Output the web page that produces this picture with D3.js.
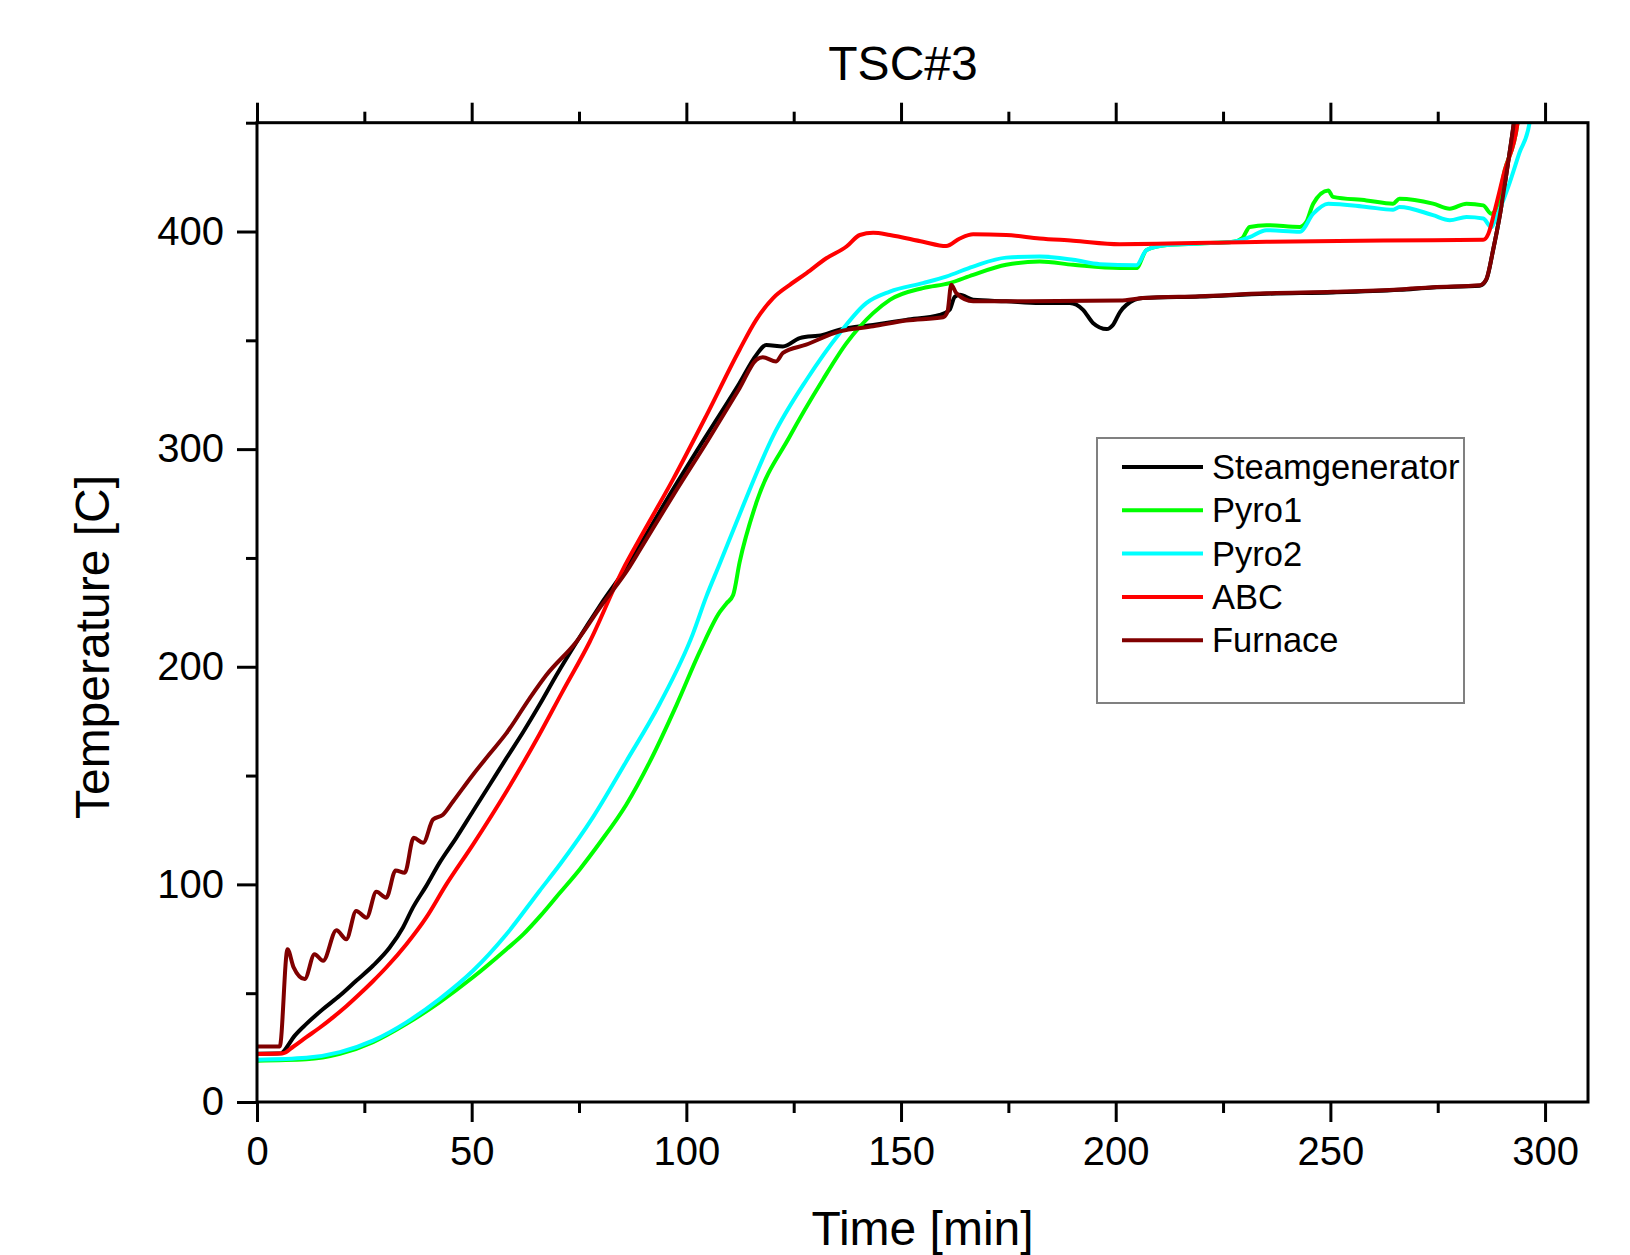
<!DOCTYPE html>
<html>
<head>
<meta charset="utf-8">
<title>TSC#3</title>
<script src="https://cdn.jsdelivr.net/npm/d3@7"></script>
<style>
  body { margin: 0; background: #fff; }
  text { font-family: "Liberation Sans", Arial, sans-serif; fill: #000; }
</style>
</head>
<body>
<svg></svg>
<script>
'use strict';

// temperature curves, [time (min), temperature (C)]
let steamgenerator = [
  [0, 22.2], [5.8, 22.4], [6.1, 23], [8.8, 30.5], [11.5, 35.9], [15.4, 42.7],
  [19.3, 48.9], [23.1, 55.7], [27, 62.6], [30.9, 71], [34, 80.2], [36.3, 89.3],
  [39.4, 99.2], [42.5, 109.9], [46.4, 121.4], [50.3, 133.6], [54.2, 145.8],
  [58.1, 158], [62, 170], [65.8, 182.5], [70, 197], [74, 210], [80, 228.5],
  [86.8, 248], [89.1, 255.6], [96.9, 281.5], [104.6, 306], [112.4, 330.4],
  [116.3, 343.3], [118.6, 347.9], [122.5, 347.2], [126.4, 351], [131.8, 352.5],
  [135.7, 354.9], [143.5, 357.1], [151.2, 359.4], [159, 361.7], [161.3, 364],
  [162.5, 370], [163.7, 370.9], [166.8, 368.6], [174.5, 367.9], [182.3, 367.1],
  [189.3, 367.1], [192.4, 364], [194.7, 358], [197.9, 355.2], [199.4, 357.2],
  [201, 363], [202.5, 366.3], [206.3, 369.4], [219.6, 370.1], [235.1, 371.4],
  [250.6, 372], [266.1, 373.2], [273.9, 374.3], [284.8, 375.1], [286.3, 377.8],
  [287.9, 391.5], [289.4, 406.7], [291, 426.6], [292.6, 448], [293.4, 460]
];

let pyro1 = [
  [0, 19], [11.5, 19.6], [19.3, 22.1], [27, 27.5], [34.8, 35.9], [42.5, 45.8],
  [50.3, 57.3], [58.1, 70.2], [62, 77], [66, 85.5], [70.5, 96], [75.2, 107],
  [79.8, 119], [86, 136.6], [91.5, 156.4], [97.7, 182.4], [103.1, 206.8],
  [107.8, 225.2], [109.3, 229], [110.9, 233], [112.4, 248], [116.3, 275.4],
  [124.1, 305.9], [131.8, 331.9], [137.3, 348.7], [143.5, 362.5], [147.4, 368.6],
  [155.1, 374], [161.3, 376.3], [166.8, 380.1], [174.5, 384.7], [182.3, 386.2],
  [190.1, 384.7], [200.9, 383.2], [204.8, 383.2], [207.2, 391.5], [211.9, 393.8],
  [219.6, 394.5], [227.4, 395.3], [229.5, 397], [231.2, 402.1], [235.1, 402.9],
  [242.9, 402.1], [244.4, 404.4], [246, 412.8], [249.5, 418.9], [250.6, 415.9],
  [258.4, 414.3], [264.6, 412.8], [266.1, 415.1], [273.9, 412.8], [277.8, 410.5],
  [281.7, 412.8], [285.6, 412], [287.5, 408.2], [288.5, 410], [290.6, 428],
  [293.6, 450], [294.2, 460]
];

let pyro2 = [
  [0, 19.4], [11.5, 20.3], [19.3, 22.9], [27, 28.2], [34.8, 36.6], [42.5, 47.3],
  [50.3, 60.3], [58.1, 77.1], [65.8, 97], [70.5, 109], [78.3, 131], [86, 156.5],
  [93.8, 183], [101.5, 215], [104.6, 232], [107.7, 247], [112.4, 270],
  [120.2, 306], [128, 331.9], [135.7, 353.3], [141.9, 367.1], [147.4, 372.4],
  [155.1, 376.3], [160.5, 379.3], [166.8, 383.9], [174.5, 388], [182.3, 388.5],
  [190.1, 387], [196.3, 385], [204.8, 384.5], [207.2, 391.5], [211.9, 393.8],
  [219.6, 394.5], [227.4, 395.3], [231.2, 397.4], [235.1, 400.6], [242.9, 399.9],
  [246, 408.2], [249.5, 412.8], [258.4, 411.3], [264.6, 410], [266.1, 411.3],
  [273.9, 407.5], [277.8, 405.2], [281.7, 406.7], [285.6, 406], [287.5, 402],
  [288.3, 405], [291.4, 420.4], [294, 436], [296.4, 450], [297, 458]
];

let abc = [
  [0, 22.1], [6.1, 22.4], [8.5, 25.5], [11.5, 29.8], [14.5, 34], [17.7, 38.9],
  [20.8, 44], [23.9, 49.6], [27, 55.5], [30.1, 61.8], [34.8, 72.5], [39.4, 84.7],
  [44.1, 100], [50.3, 118.3], [58.1, 142.7], [65.8, 169], [71, 188], [77.5, 211.5],
  [85.3, 245], [89.1, 258.7], [96.9, 286.1], [104.6, 315.2], [112.4, 345.7],
  [116.3, 359.5], [120.2, 369.4], [124.1, 375.5], [128, 380.9], [132.6, 387.7],
  [137.3, 393.1], [140.4, 398.4], [143.5, 399.4], [147.4, 398.4], [155.1, 395.3],
  [160.5, 393.3], [163.7, 396.8], [166.8, 398.7], [174.5, 398.4], [182.3, 396.8],
  [190.1, 395.8], [200.9, 394.2], [235.1, 395.3], [273.9, 396], [285.6, 396.2],
  [286.8, 399], [288.3, 409.8], [290.6, 428.1], [293.6, 450], [294.2, 460]
];

let furnace = [
  [0, 25.5], [5.3, 25.5], [7.1, 70.2], [8.5, 62], [11.1, 56.5], [13.4, 67.9],
  [15.4, 64.9], [18.5, 78.9], [20.8, 74.8], [23.1, 87.8], [25.5, 84.7],
  [27.8, 96.6], [30.1, 93.9], [32.3, 106.4], [34.4, 105.3], [36.5, 121.4],
  [38.7, 119.1], [41, 129.8], [43.3, 132], [45.7, 138.2], [50.3, 150.4],
  [54.2, 160], [58.1, 169.5], [63.5, 185.5], [67.4, 196.2], [74.4, 211.5],
  [80, 227.5], [86.8, 246], [89.1, 253.4], [97, 279], [105, 304], [112.4, 328],
  [116.3, 341], [117.8, 342.2], [120.9, 340.3], [122.5, 344.2], [127.9, 348],
  [135.7, 354.1], [143.5, 356.4], [151.2, 359.1], [159.8, 360.6], [160.8, 363],
  [161.7, 375.5], [162.9, 371.6], [166.8, 367.9], [174.5, 367.9], [201, 368.3],
  [206.3, 369.4], [219.6, 370.3], [235.1, 371.6], [250.6, 372.3], [266.1, 373.4],
  [273.9, 374.4], [284.8, 375.3], [286.3, 378], [287.9, 391.5], [289.4, 406.7],
  [291, 426.6], [292.6, 448], [293.4, 460]
];

let seriesNames = ['Steamgenerator', 'Pyro1', 'Pyro2', 'ABC', 'Furnace'];
let seriesColors = ['#000000', '#00ff00', '#00ffff', '#ff0000', '#800000'];
let seriesData = [steamgenerator, pyro1, pyro2, abc, furnace];

let xMajorTicks = [0, 50, 100, 150, 200, 250, 300];
let xMinorTicks = [25, 75, 125, 175, 225, 275];
let yMajorTicks = [0, 100, 200, 300, 400];
let yMinorTicks = [50, 150, 250, 350, 450];

let w = 1630;
let h = 1255;
// plot frame in pixels
let plotLeft = 257, plotRight = 1588, plotTop = 122.7, plotBottom = 1102;

let svg = d3.select('svg')
  .attr('width', w)
  .attr('height', h);

svg.append('rect')
  .attr('width', w)
  .attr('height', h)
  .attr('fill', '#fff');

let x = d3.scaleLinear().domain([0, 310]).range([plotLeft, plotRight]);
let y = d3.scaleLinear().domain([0, 450]).range([plotBottom, plotTop]);

// small helper so every axis gets the same thick ticks and fonts
function styleAxis(g) {
  g.select('.domain').remove();
  g.selectAll('line').attr('stroke-width', 3);
  g.attr('font-size', 40).attr('font-family', '"Liberation Sans", Arial, sans-serif');
}

// bottom axis: major ticks with labels, then minor ticks
svg.append('g')
  .attr('transform', 'translate(0,' + plotBottom + ')')
  .call(d3.axisBottom(x).tickValues(xMajorTicks).tickSize(20).tickSizeOuter(0).tickPadding(15))
  .call(styleAxis);
svg.append('g')
  .attr('transform', 'translate(0,' + plotBottom + ')')
  .call(d3.axisBottom(x).tickValues(xMinorTicks).tickSize(11).tickSizeOuter(0).tickFormat(''))
  .call(styleAxis);

// top axis: ticks only
svg.append('g')
  .attr('transform', 'translate(0,' + plotTop + ')')
  .call(d3.axisTop(x).tickValues(xMajorTicks).tickSize(20).tickSizeOuter(0).tickFormat(''))
  .call(styleAxis);
svg.append('g')
  .attr('transform', 'translate(0,' + plotTop + ')')
  .call(d3.axisTop(x).tickValues(xMinorTicks).tickSize(11).tickSizeOuter(0).tickFormat(''))
  .call(styleAxis);

// left axis
svg.append('g')
  .attr('transform', 'translate(' + plotLeft + ',0)')
  .call(d3.axisLeft(y).tickValues(yMajorTicks).tickSize(20).tickSizeOuter(0).tickPadding(13))
  .call(styleAxis);
svg.append('g')
  .attr('transform', 'translate(' + plotLeft + ',0)')
  .call(d3.axisLeft(y).tickValues(yMinorTicks).tickSize(11).tickSizeOuter(0).tickFormat(''))
  .call(styleAxis);

// clip the curves to the frame, they run off the top at the end
svg.append('clipPath')
  .attr('id', 'plotclip')
  .append('rect')
  .attr('x', plotLeft)
  .attr('y', plotTop)
  .attr('width', plotRight - plotLeft)
  .attr('height', plotBottom - plotTop);

let line = d3.line()
  .x(function (d) { return x(d[0]); })
  .y(function (d) { return y(d[1]); })
  .curve(d3.curveMonotoneX);

svg.append('g')
  .attr('clip-path', 'url(#plotclip)')
  .selectAll('path')
  .data(seriesData)
  .enter()
  .append('path')
  .attr('d', line)
  .attr('fill', 'none')
  .attr('stroke', function (d, i) { return seriesColors[i]; })
  .attr('stroke-width', 4)
  .attr('stroke-linejoin', 'round');

// frame drawn on top of the curves
svg.append('rect')
  .attr('x', plotLeft)
  .attr('y', plotTop)
  .attr('width', plotRight - plotLeft)
  .attr('height', plotBottom - plotTop)
  .attr('fill', 'none')
  .attr('stroke', '#000')
  .attr('stroke-width', 3);

// titles
svg.append('text')
  .attr('x', 903)
  .attr('y', 80)
  .attr('text-anchor', 'middle')
  .attr('font-size', 48)
  .text('TSC#3');

svg.append('text')
  .attr('x', (plotLeft + plotRight) / 2)
  .attr('y', 1245)
  .attr('text-anchor', 'middle')
  .attr('font-size', 48)
  .text('Time [min]');

svg.append('text')
  .attr('transform', 'translate(109,647) rotate(-90)')
  .attr('text-anchor', 'middle')
  .attr('font-size', 48)
  .text('Temperature [C]');

// legend
let legend = svg.append('g');
legend.append('rect')
  .attr('x', 1097)
  .attr('y', 438)
  .attr('width', 367)
  .attr('height', 265)
  .attr('fill', '#fff')
  .attr('stroke', '#808080')
  .attr('stroke-width', 2);

let rows = legend.selectAll('g.row')
  .data(seriesNames)
  .enter()
  .append('g')
  .attr('class', 'row')
  .attr('transform', function (d, i) { return 'translate(0,' + (467 + i * 43.3) + ')'; });

rows.append('line')
  .attr('x1', 1122)
  .attr('x2', 1203)
  .attr('stroke', function (d, i) { return seriesColors[i]; })
  .attr('stroke-width', 4);

rows.append('text')
  .attr('x', 1212)
  .attr('dy', '0.35em')
  .attr('font-size', 34.5)
  .text(function (d) { return d; });
</script>
</body>
</html>
